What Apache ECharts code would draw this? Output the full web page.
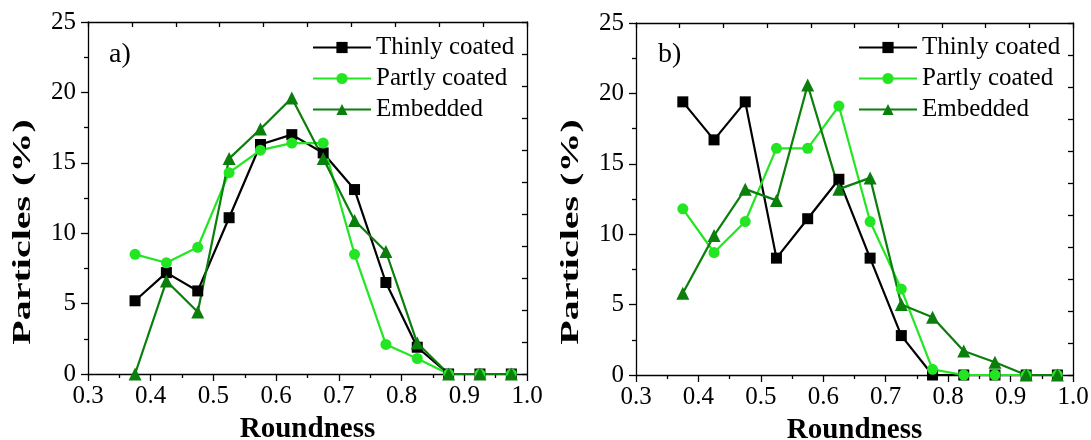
<!DOCTYPE html>
<html>
<head>
<meta charset="utf-8">
<script src="https://cdn.jsdelivr.net/npm/echarts@6/dist/echarts.min.js"></script>
<style>
html,body{margin:0;padding:0;background:#fff;}
#chart{width:1091px;height:440px;}
</style>
</head>
<body>
<div id="chart"></div>
<script>
// ---- data ----
var roundness = [0.375,0.425,0.475,0.525,0.575,0.625,0.675,0.725,0.775,0.825,0.875,0.925,0.975];
var seriesNames = ['Thinly coated','Partly coated','Embedded'];
var thinA     = [5.2,7.2,5.9,11.1,16.3,17.0,15.7,13.1,6.5,1.9,0,0,0];
var partlyA   = [8.5,7.9,9.0,14.3,15.9,16.4,16.4,8.5,2.1,1.1,0,0,0];
var embeddedA = [0,6.6,4.4,15.3,17.4,19.6,15.3,10.9,8.7,2.2,0,0,0];
var thinB     = [19.4,16.7,19.4,8.3,11.1,13.9,8.3,2.8,0,0,0,0,0];
var partlyB   = [11.8,8.7,10.9,16.1,16.1,19.1,10.9,6.1,0.4,0,0,0,0];
var embeddedB = [5.8,9.9,13.2,12.4,20.6,13.2,14.0,5.0,4.1,1.7,0.9,0,0];
var panelLabels = ['a)','b)'];
var xTitle = 'Roundness';
var yTitle = 'Particles (%)';

// ---- style ----
var FONT = "'Liberation Serif','Times New Roman',serif";
var colors = ['#000000','#22e622','#0b7f0b'];
var symbols = ['rect','circle','triangle'];
var symbolSizes = [11,11,13];

function pairs(ys){ return roundness.map(function(x,i){ return [x, ys[i]]; }); }

var grids = [
  {left:88, right:564, top:22, bottom:66, containLabel:false, outerBoundsMode:'none'},
  {left:636, right:18, top:23, bottom:65, containLabel:false, outerBoundsMode:'none'}
];

var xAxes = [], yAxes = [], series = [], legends = [], titles = [], graphics = [];
var panelData = [[thinA,partlyA,embeddedA],[thinB,partlyB,embeddedB]];
var legendLeft = [312, 858];
var titleLeft = [109, 658];
var yTitleX = [24, 572];

grids.forEach(function(g, p){
  xAxes.push({
    type:'value', gridIndex:p, position:'bottom', min:0.3, max:1.0, interval:0.1,
    name:xTitle, nameLocation:'middle', nameGap:41, nameMoveOverlap:false,
    nameTextStyle:{fontFamily:FONT, fontSize:29, fontWeight:'bold', color:'#000'},
    axisLine:{show:true, onZero:false, lineStyle:{color:'#000', width:1.3}},
    axisTick:{show:true, inside:false, length:7, lineStyle:{color:'#000', width:1.3}},
    minorTick:{show:true, splitNumber:2, length:4, lineStyle:{color:'#000', width:1.3}},
    axisLabel:{fontFamily:FONT, fontSize:25, color:'#000', margin:10,
      formatter:function(v){ return v.toFixed(1); }},
    splitLine:{show:false}, minorSplitLine:{show:false}
  });
  xAxes.push({
    type:'value', gridIndex:p, position:'top', min:0, max:10, interval:1,
    axisLine:{show:true, onZero:false, lineStyle:{color:'#000', width:1.3}},
    axisTick:{show:true, inside:true, length:5, lineStyle:{color:'#000', width:1.3}},
    axisLabel:{show:false}, splitLine:{show:false}
  });
  yAxes.push({
    type:'value', gridIndex:p, position:'left', min:0, max:25, interval:5,
    axisLine:{show:true, onZero:false, lineStyle:{color:'#000', width:1.3}},
    axisTick:{show:true, inside:false, length:7, lineStyle:{color:'#000', width:1.3}},
    minorTick:{show:true, splitNumber:2, length:4, lineStyle:{color:'#000', width:1.3}},
    axisLabel:{fontFamily:FONT, fontSize:25, color:'#000', margin:12},
    splitLine:{show:false}, minorSplitLine:{show:false}
  });
  yAxes.push({
    type:'value', gridIndex:p, position:'right', min:0, max:11, interval:1,
    axisLine:{show:true, onZero:false, lineStyle:{color:'#000', width:1.3}},
    axisTick:{show:true, inside:true, length:5, lineStyle:{color:'#000', width:1.3}},
    axisLabel:{show:false}, splitLine:{show:false}
  });

  panelData[p].forEach(function(ys, s){
    series.push({
      type:'line', name:seriesNames[s], xAxisIndex:p*2, yAxisIndex:p*2,
      data:pairs(ys), symbol:symbols[s], symbolSize:symbolSizes[s],
      showAllSymbol:true,
      itemStyle:{color:colors[s]},
      lineStyle:{color:colors[s], width:2.2},
      emphasis:{disabled:true}
    });
  });

  legends.push({
    orient:'vertical', left:legendLeft[p], top:35, padding:0,
    itemWidth:58, itemHeight:14, itemGap:6,
    textStyle:{fontFamily:FONT, fontSize:25, color:'#000', lineHeight:25},
    data:seriesNames, selectedMode:false
  });

  titles.push({
    text:panelLabels[p], left:titleLeft[p], top:41, padding:0,
    textStyle:{fontFamily:FONT, fontSize:28, fontWeight:'normal', color:'#000'}
  });

  graphics.push({
    type:'text', x:yTitleX[p], y:232, rotation:Math.PI/2, scaleX:1.6, scaleY:1,
    style:{text:yTitle, font:'bold 25px ' + FONT, fill:'#000',
      textAlign:'center', textVerticalAlign:'middle'}
  });
});

var chart = echarts.init(document.getElementById('chart'), null, {renderer:'canvas'});
chart.setOption({
  animation:false,
  backgroundColor:'#fff',
  grid:grids,
  xAxis:xAxes,
  yAxis:yAxes,
  series:series,
  legend:legends,
  title:titles,
  graphic:graphics
});
</script>
</body>
</html>
